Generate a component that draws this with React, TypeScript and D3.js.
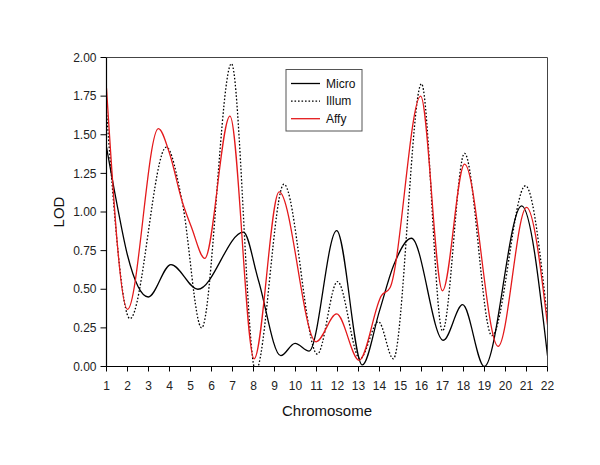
import React from "react";
import * as d3 from "d3";

const microX = [1, 1.5, 2.0, 2.99, 4.07, 5.35, 7.52, 8.23, 9.3, 9.98, 10.65, 11.96, 13.18, 14.0, 14.66, 15.52, 17.04, 17.96, 18.99, 20.77, 22];
const microY = [1.42, 1.05, 0.72, 0.45, 0.66, 0.50, 0.87, 0.56, 0.07, 0.15, 0.10, 0.88, 0.01, 0.36, 0.65, 0.83, 0.17, 0.40, 0.0, 1.04, 0.07];

const illumX = [1, 2.12, 3.85, 4.6, 5.53, 6.95, 8.1, 9.45, 11.04, 12.0, 13.07, 13.95, 14.66, 16.0, 17.0, 18.05, 19.35, 20.95, 22];
const illumY = [1.65, 0.31, 1.42, 1.07, 0.25, 1.96, -0.03, 1.18, 0.08, 0.55, 0.05, 0.29, 0.05, 1.83, 0.23, 1.38, 0.2, 1.17, 0.3];

const affyX = [1, 2.0, 3.47, 4.0, 4.6, 5.05, 5.68, 6.88, 8.03, 9.22, 10.98, 11.96, 13.03, 14.1, 14.5, 15.96, 17.0, 18.05, 19.65, 21.0, 22];
const affyY = [1.80, 0.37, 1.54, 1.38, 1.07, 0.90, 0.70, 1.62, 0.05, 1.13, 0.16, 0.34, 0.04, 0.46, 0.51, 1.75, 0.49, 1.31, 0.13, 1.03, 0.27];

const xTicks = d3.range(1, 23);
const yTicks = [0, 0.25, 0.5, 0.75, 1.0, 1.25, 1.5, 1.75, 2.0];
const seriesNames = ["Micro", "Illum", "Affy"];

const FONT = "'Liberation Sans', Arial, sans-serif";

export default function App() {
  const W = 600, H = 465;
  const left = 106.5, right = 547.5, top = 57.5, bottom = 366.5;
  const x = d3.scaleLinear().domain([1, 22]).range([left, right]);
  const y = d3.scaleLinear().domain([0, 2]).range([bottom, top]);
  const line = d3
    .line<[number, number]>()
    .x((d) => x(d[0]))
    .y((d) => y(d[1]))
    .curve(d3.curveMonotoneX);
  const zip = (a: number[], b: number[]) => a.map((v, i) => [v, b[i]] as [number, number]);
  const series = [
    { name: seriesNames[0], d: line(zip(microX, microY)), color: "#000", dash: undefined as string | undefined },
    { name: seriesNames[1], d: line(zip(illumX, illumY)), color: "#000", dash: "1.6 1.9" },
    { name: seriesNames[2], d: line(zip(affyX, affyY)), color: "#e41a1c", dash: undefined },
  ];
  return (
    <svg width={W} height={H} style={{ position: "absolute", left: 0, top: 0, background: "#fff" }} fontFamily={FONT}>
      <defs>
        <clipPath id="plotclip">
          <rect x={left} y={top} width={right - left} height={bottom - top} />
        </clipPath>
      </defs>
      <rect x={0} y={0} width={W} height={H} fill="#fff" />
      <g clipPath="url(#plotclip)">
        {series.map((s) => (
          <path key={s.name} d={s.d || ""} fill="none" stroke={s.color} strokeWidth={1.3} strokeDasharray={s.dash} />
        ))}
      </g>
      {/* frame */}
      <line x1={left} x2={right} y1={top} y2={top} stroke="#444" strokeWidth={1} />
      <line x1={right} x2={right} y1={top} y2={bottom} stroke="#444" strokeWidth={1} />
      <line x1={left} x2={left} y1={top} y2={bottom} stroke="#000" strokeWidth={1.2} />
      <line x1={left} x2={right} y1={bottom} y2={bottom} stroke="#000" strokeWidth={1.2} />
      {/* y ticks */}
      {yTicks.map((t) => (
        <g key={t}>
          <line x1={left - 6} x2={left} y1={y(t)} y2={y(t)} stroke="#000" />
          <text x={left - 10} y={y(t)} dy="0.35em" textAnchor="end" fontSize={12} fill="#222">
            {t.toFixed(2)}
          </text>
        </g>
      ))}
      {/* x ticks */}
      {xTicks.map((t) => (
        <g key={t}>
          <line x1={x(t)} x2={x(t)} y1={bottom} y2={bottom + 5} stroke="#000" />
          <text x={x(t)} y={bottom + 23} textAnchor="middle" fontSize={12} fill="#222">
            {t}
          </text>
        </g>
      ))}
      <text x={(left + right) / 2} y={416} textAnchor="middle" fontSize={15} fill="#111">
        Chromosome
      </text>
      <text transform={`translate(64,${(top + bottom) / 2}) rotate(-90)`} textAnchor="middle" fontSize={15} fill="#111">
        LOD
      </text>
      {/* legend */}
      <g>
        <rect x={286} y={69.5} width={76} height={61.5} fill="#fff" stroke="#555" strokeWidth={1} />
        {series.map((s, i) => (
          <g key={s.name} transform={`translate(0,${83.5 + i * 17.6})`}>
            <line x1={291} x2={320} y1={0} y2={0} stroke={s.color} strokeWidth={1.3} strokeDasharray={s.dash} />
            <text x={326} y={0} dy="0.35em" fontSize={12} fill="#111">
              {s.name}
            </text>
          </g>
        ))}
      </g>
    </svg>
  );
}
